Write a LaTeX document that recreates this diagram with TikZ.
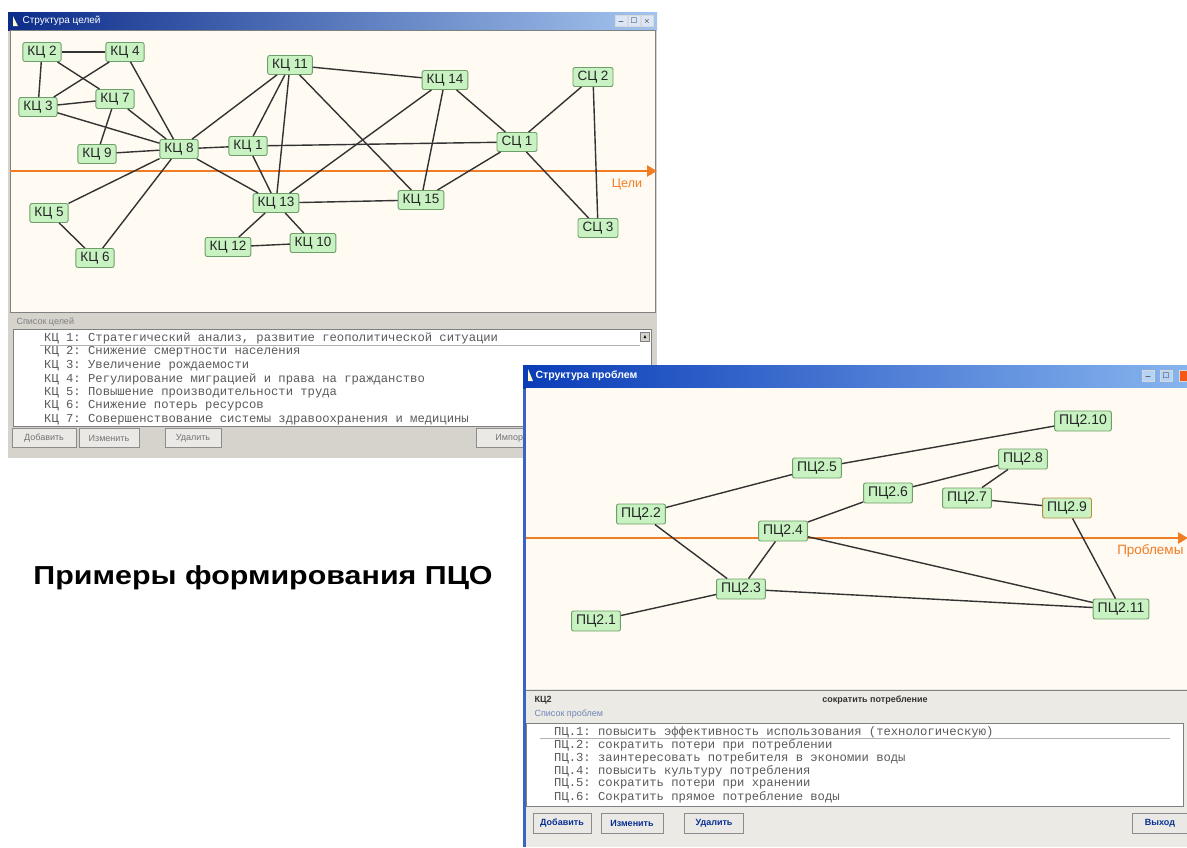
\documentclass[tikz,border=0pt]{standalone}
\usepackage{amssymb}
\usepackage{fontspec}
\setmainfont{Liberation Sans}
\setmonofont{Liberation Mono}
\usetikzlibrary{arrows.meta}

\definecolor{canvas}{HTML}{FFFAF2}
\definecolor{panel}{HTML}{D6D3CC}
\definecolor{panelb}{HTML}{ECEAE4}
\definecolor{nodefill}{HTML}{C8F2C2}
\definecolor{nodeedge}{HTML}{6E9E6A}
\definecolor{axis}{HTML}{F07D24}
\definecolor{titledark}{HTML}{0B2C8A}
\definecolor{titlelight}{HTML}{A4C4EE}
\definecolor{xpdark}{HTML}{0A3CB8}
\definecolor{xplight}{HTML}{86B4EE}
\definecolor{listtext}{HTML}{5A5A5A}
\definecolor{listlabel}{HTML}{6F86B8}

\begin{document}
\begin{tikzpicture}[x=1pt, y=-1pt,
  goal/.style={draw=nodeedge, fill=nodefill, rounded corners=2pt, line width=0.9pt,
    inner xsep=4.5pt, inner ysep=0pt, minimum height=19pt, text=black!85,
    font=\fontsize{13.5}{13.5}\selectfont},
  prob/.style={goal, minimum height=20pt, inner xsep=4.5pt, font=\fontsize{14}{14}\selectfont},
  link/.style={draw=black!80, line width=1.4pt},
  axisline/.style={draw=axis, line width=2.6pt, -{Triangle[length=10pt,width=11pt]}},
  item/.style={anchor=west, inner sep=0pt, text=listtext, font=\ttfamily\fontsize{12.2}{12.2}\selectfont},
  button/.style={draw=gray!90, fill=panel!50, inner sep=0pt, minimum height=19pt,
    font=\fontsize{9}{9}\selectfont},
  winbtn/.style={draw=white!70!gray, fill=titlelight!40, inner sep=0pt, minimum width=12pt,
    minimum height=11pt, font=\fontsize{8}{8}\selectfont},
]
\useasboundingbox (0,0) rectangle (1187,847);
\fill [white] (0,0) rectangle (1187,847);

% window 1: goals
\fill [panel] (8,12) rectangle (657,458);
\shade [left color=titledark, right color=titlelight] (8,12) rectangle (657,30);
\fill [white!80!yellow] (13,16) -- (18,26) -- (13,26) -- cycle;
\node [anchor=west, text=white, font=\fontsize{10}{10}\selectfont] (t1) at (19,21) {Структура целей};
\node [winbtn] (w1a) at (621,21) {\_};
\node [winbtn] (w1b) at (634,21) {$\square$};
\node [winbtn] (w1c) at (647,21) {$\times$};
\filldraw [fill=canvas, draw=gray] (10,30) rectangle (655,312);

\coordinate (g0) at (10,171);
\coordinate (g1) at (657,171);
\draw [axisline] (g0) -- (g1);
\node [text=axis, font=\fontsize{12.5}{12.5}\selectfont] (cel) at (627,184) {Цели};

\node [goal] (k2) at (42,52) {КЦ 2};
\node [goal] (k4) at (125,52) {КЦ 4};
\node [goal] (k11) at (290,65) {КЦ 11};
\node [goal] (k3) at (38,107) {КЦ 3};
\node [goal] (k7) at (115,99) {КЦ 7};
\node [goal] (k9) at (97,154) {КЦ 9};
\node [goal] (k8) at (179,149) {КЦ 8};
\node [goal] (k1) at (248,146) {КЦ 1};
\node [goal] (k13) at (276,203) {КЦ 13};
\node [goal] (k5) at (49,213) {КЦ 5};
\node [goal] (k6) at (95,258) {КЦ 6};
\node [goal] (k12) at (228,247) {КЦ 12};
\node [goal] (k10) at (313,243) {КЦ 10};
\node [goal] (k14) at (445,80) {КЦ 14};
\node [goal] (k15) at (421,200) {КЦ 15};
\node [goal] (s1) at (517,142) {СЦ 1};
\node [goal] (s2) at (593,77) {СЦ 2};
\node [goal] (s3) at (598,228) {СЦ 3};

\draw [link] (k2) -- (k4);
\draw [link] (k2) -- (k3);
\draw [link] (k2) -- (k7);
\draw [link] (k4) -- (k3);
\draw [link] (k4) -- (k8);
\draw [link] (k3) -- (k7);
\draw [link] (k3) -- (k8);
\draw [link] (k7) -- (k8);
\draw [link] (k7) -- (k9);
\draw [link] (k9) -- (k8);
\draw [link] (k8) -- (k1);
\draw [link] (k8) -- (k11);
\draw [link] (k8) -- (k13);
\draw [link] (k8) -- (k5);
\draw [link] (k8) -- (k6);
\draw [link] (k5) -- (k6);
\draw [link] (k11) -- (k1);
\draw [link] (k11) -- (k13);
\draw [link] (k11) -- (k14);
\draw [link] (k11) -- (k15);
\draw [link] (k1) -- (k13);
\draw [link] (k1) -- (s1);
\draw [link] (k13) -- (k14);
\draw [link] (k13) -- (k15);
\draw [link] (k13) -- (k12);
\draw [link] (k13) -- (k10);
\draw [link] (k12) -- (k10);
\draw [link] (k14) -- (k15);
\draw [link] (k14) -- (s1);
\draw [link] (k15) -- (s1);
\draw [link] (s1) -- (s2);
\draw [link] (s1) -- (s3);
\draw [link] (s2) -- (s3);

\node [anchor=west, text=gray, font=\fontsize{9}{9}\selectfont] (l1) at (13,322) {Список целей};
\filldraw [fill=white, draw=gray] (13,329) rectangle (651,426);
\draw [gray!60] (40,345) -- (640,345);
\node [draw=gray, fill=panel, minimum size=9pt, inner sep=0pt, font=\fontsize{5}{5}\selectfont] (sb1) at (645,337) {$\blacktriangle$};
\node [item] (i1) at (44,338) {КЦ 1: Стратегический анализ, развитие геополитической ситуации};
\node [item] (i2) at (44,352) {КЦ 2: Снижение смертности населения};
\node [item] (i3) at (44,365.5) {КЦ 3: Увеличение рождаемости};
\node [item] (i4) at (44,379) {КЦ 4: Регулирование миграцией и права на гражданство};
\node [item] (i5) at (44,392.5) {КЦ 5: Повышение производительности труда};
\node [item] (i6) at (44,406) {КЦ 6: Снижение потерь ресурсов};
\node [item] (i7) at (44,419.5) {КЦ 7: Совершенствование системы здравоохранения и медицины};
\node [button, minimum width=64pt, text=gray!90!black] (b1) at (44,438) {Добавить};
\node [button, minimum width=60pt, text=gray!90!black] (b2) at (109,438) {Изменить};
\node [button, minimum width=56pt, text=gray!90!black] (b3) at (193,438) {Удалить};
\node [button, minimum width=70pt, anchor=west, text=gray!90!black] (b4) at (476,438) {Импорт};

% window 2: problems
\fill [panelb] (523,365) rectangle (1187,847);
\draw [xpdark!80, line width=3pt] (524,365) -- (524,847);
\shade [left color=xpdark, right color=xplight] (523,365) rectangle (1187,388);
\fill [white!80!yellow] (528,369) -- (533,381) -- (528,381) -- cycle;
\node [anchor=west, text=white, font=\bfseries\fontsize{10.5}{10.5}\selectfont] (t2) at (532,376) {Структура проблем};
\node [winbtn, fill=xplight!60] (w2a) at (1148,376) {\_};
\node [winbtn, fill=xplight!60] (w2b) at (1166,376) {$\square$};
\node [winbtn, fill=axis!70!red, minimum width=8pt, anchor=west] (w2c) at (1179,376) {};
\fill [canvas] (526,388) rectangle (1187,689);
\draw [gray, line width=1pt] (526,690) -- (1187,690);

\coordinate (h0) at (526,538);
\coordinate (h1) at (1188,538);
\draw [axisline] (h0) -- (h1);
\node [text=axis, anchor=east, font=\fontsize{13.5}{13.5}\selectfont] (pr) at (1187,551) {Проблемы};

\node [prob] (p10) at (1083,421) {ПЦ2.10};
\node [prob] (p8) at (1023,459) {ПЦ2.8};
\node [prob] (p5) at (817,468) {ПЦ2.5};
\node [prob] (p6) at (888,493) {ПЦ2.6};
\node [prob] (p7) at (967,498) {ПЦ2.7};
\node [prob, draw=axis!60!nodeedge] (p9) at (1067,508) {ПЦ2.9};
\node [prob] (p2) at (641,514) {ПЦ2.2};
\node [prob] (p4) at (783,531) {ПЦ2.4};
\node [prob] (p3) at (741,589) {ПЦ2.3};
\node [prob] (p1) at (596,621) {ПЦ2.1};
\node [prob] (p11) at (1121,609) {ПЦ2.11};

\draw [link] (p2) -- (p5);
\draw [link] (p5) -- (p10);
\draw [link] (p2) -- (p3);
\draw [link] (p4) -- (p3);
\draw [link] (p4) -- (p6);
\draw [link] (p6) -- (p8);
\draw [link] (p8) -- (p7);
\draw [link] (p7) -- (p9);
\draw [link] (p9) -- (p11);
\draw [link] (p4) -- (p11);
\draw [link] (p3) -- (p11);
\draw [link] (p3) -- (p1);

\node [anchor=west, text=black!80, font=\bfseries\fontsize{9}{9}\selectfont] (kc) at (531,700) {КЦ2};
\node [text=black!80, font=\bfseries\fontsize{9}{9}\selectfont] (kcn) at (875,700) {сократить потребление};
\node [anchor=west, text=listlabel, font=\fontsize{9}{9}\selectfont] (l2) at (531,714) {Список проблем};
\filldraw [fill=white, draw=gray] (526,723) rectangle (1183,806);
\draw [gray!60] (540,738.5) -- (1170,738.5);
\node [item] (j1) at (554,732) {ПЦ.1: повысить эффективность использования (технологическую)};
\node [item] (j2) at (554,745) {ПЦ.2: сократить потери при потреблении};
\node [item] (j3) at (554,758) {ПЦ.3: заинтересовать потребителя в экономии воды};
\node [item] (j4) at (554,771) {ПЦ.4: повысить культуру потребления};
\node [item] (j5) at (554,784) {ПЦ.5: сократить потери при хранении};
\node [item] (j6) at (554,797) {ПЦ.6: Сократить прямое потребление воды};
\node [button, minimum width=58pt, minimum height=20pt, text=xpdark!80!black, font=\bfseries\fontsize{9}{9}\selectfont] (c1) at (562,823) {Добавить};
\node [button, minimum width=62pt, minimum height=20pt, text=xpdark!80!black, font=\bfseries\fontsize{9}{9}\selectfont] (c2) at (632,823) {Изменить};
\node [button, minimum width=59pt, minimum height=20pt, text=xpdark!80!black, font=\bfseries\fontsize{9}{9}\selectfont] (c3) at (714,823) {Удалить};
\node [button, minimum width=56pt, minimum height=20pt, text=xpdark!80!black, font=\bfseries\fontsize{9}{9}\selectfont] (c4) at (1160,823) {Выход};

\node [font=\bfseries\fontsize{26}{26}\selectfont] (cap) at (263,578) {\scalebox{1.17}[1]{Примеры формирования ПЦО}};

\end{tikzpicture}
\end{document}
